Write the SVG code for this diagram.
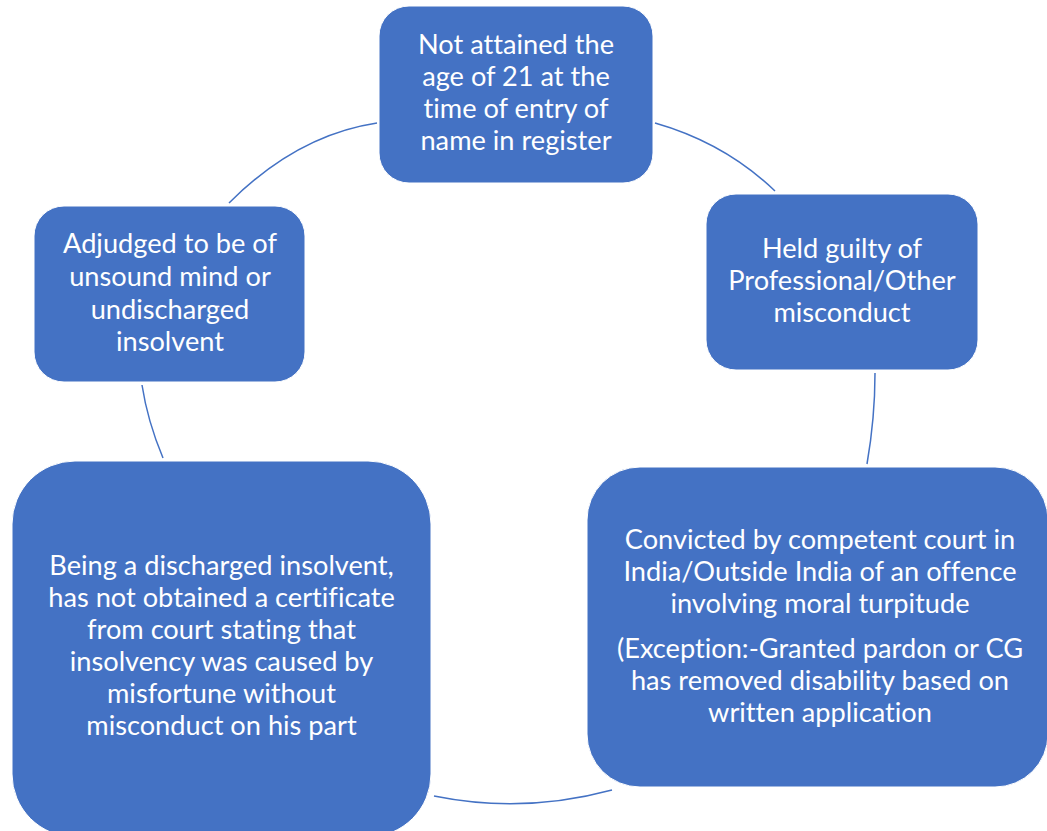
<svg xmlns="http://www.w3.org/2000/svg" width="1047" height="831" viewBox="0 0 1047 831">
<style>
.box{fill:#4472C4;stroke:#ffffff;stroke-width:1}
.t{font-family:Lato,"Liberation Sans",sans-serif;font-size:27.2px;fill:#ffffff;text-anchor:middle;font-variant-ligatures:none}
.arc{fill:none;stroke:#4472C4;stroke-width:1.5}
</style>
<rect width="1047" height="831" fill="#ffffff"/>
<g id="connectors">
<path class="arc" d="M229,203 Q297,135 377,123"/>
<path class="arc" d="M655,123 Q725,143 775,191"/>
<path class="arc" d="M875,373 Q875,418 867,464"/>
<path class="arc" d="M612,790 Q523,814 434,796"/>
<path class="arc" d="M142,385 Q147.5,421 163,458"/>
</g>
<g id="node-age">
<rect class="box" x="379" y="6" width="274" height="177" rx="30"/>
<text class="t" x="516" y="54">Not attained the</text>
<text class="t" x="516" y="86">age of 21 at the</text>
<text class="t" x="516" y="118">time of entry of</text>
<text class="t" x="516" y="150">name in register</text>
</g>
<g id="node-misconduct">
<rect class="box" x="706" y="194" width="272" height="176" rx="30"/>
<text class="t" x="842" y="258">Held guilty of</text>
<text class="t" x="842" y="290">Professional/Other</text>
<text class="t" x="842" y="322">misconduct</text>
</g>
<g id="node-convicted">
<rect class="box" x="587" y="467" width="461" height="320" rx="53"/>
<text class="t" x="820" y="549">Convicted by competent court in</text>
<text class="t" x="820" y="581">India/Outside India of an offence</text>
<text class="t" x="820" y="613">involving moral turpitude</text>
<text class="t" x="820" y="658">(Exception:-Granted pardon or CG</text>
<text class="t" x="820" y="690">has removed disability based on</text>
<text class="t" x="820" y="722">written application</text>
</g>
<g id="node-discharged">
<rect class="box" x="12" y="461" width="419" height="376" rx="63"/>
<text class="t" x="221.5" y="575">Being a discharged insolvent,</text>
<text class="t" x="221.5" y="607">has not obtained a certificate</text>
<text class="t" x="221.5" y="639">from court stating that</text>
<text class="t" x="221.5" y="671">insolvency was caused by</text>
<text class="t" x="221.5" y="703">misfortune without</text>
<text class="t" x="221.5" y="735">misconduct on his part</text>
</g>
<g id="node-unsound">
<rect class="box" x="34" y="206" width="271" height="176" rx="30"/>
<text class="t" x="170" y="253">Adjudged to be of</text>
<text class="t" x="170" y="286">unsound mind or</text>
<text class="t" x="170" y="319">undischarged</text>
<text class="t" x="170" y="351">insolvent</text>
</g>
</svg>
